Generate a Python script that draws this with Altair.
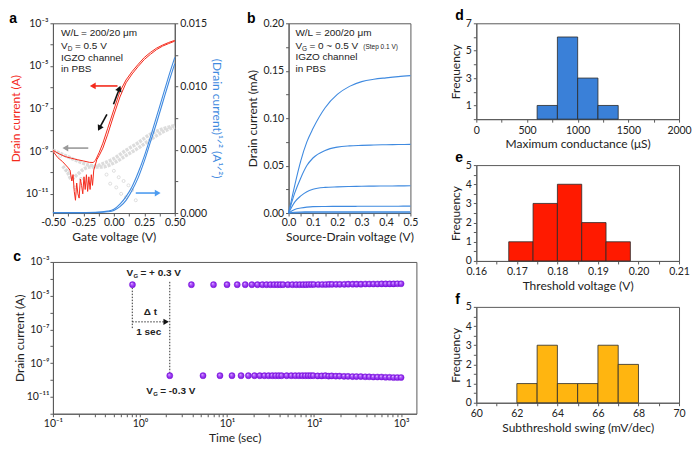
import altair as alt
import pandas as pd

FONT = "Lato"
TXT = "Liberation Sans"
RED = "#f42a1c"
BLUE = "#3f8ae0"
GREY = "#dcdcdc"
EDGE = "#5a5a5a"
INK = "#222222"

# ---------------- panel a : transfer curves ----------------
a_vg1 = [-0.50, -0.45, -0.40, -0.35, -0.30, -0.25, -0.20, -0.17, -0.15, -0.12, -0.09, -0.05,
         0.00, 0.05, 0.10, 0.15, 0.20, 0.25, 0.30, 0.35, 0.40, 0.45, 0.50]
a_id1 = [1.1e-9, 7.6e-10, 5.6e-10, 4.7e-10, 4.0e-10, 3.5e-10, 3.0e-10, 2.95e-10, 3.8e-10, 8.9e-10,
         2.4e-9, 1.2e-8, 8.9e-8, 6.3e-7, 2.2e-6, 5.5e-6, 1.2e-5, 2.5e-5, 4.3e-5, 6.8e-5, 9.5e-5,
         1.26e-4, 1.58e-4]
a_vg2 = [-0.50, -0.46, -0.42, -0.38, -0.36, -0.345, -0.335, -0.325, -0.315, -0.305, -0.295, -0.285,
         -0.275, -0.265, -0.255, -0.245, -0.235, -0.225, -0.215, -0.205, -0.195, -0.185, -0.175,
         -0.165, -0.155, -0.14, -0.12, -0.09, -0.05, 0.00, 0.05, 0.10, 0.15, 0.20, 0.25, 0.30, 0.35,
         0.40, 0.45, 0.50]
a_id2 = [1.0e-9, 5.0e-10, 3.2e-10, 1.8e-10, 1.3e-10, 4.0e-11, 8.0e-11, 1.3e-11, 5.0e-12, 3.2e-11,
         1.0e-11, 6.3e-12, 5.0e-11, 2.5e-11, 1.0e-11, 6.3e-11, 1.6e-11, 7.9e-11, 1.3e-11, 6.3e-11,
         1.6e-11, 7.9e-11, 2.5e-11, 1.3e-10, 2.0e-10, 4.0e-10, 6.3e-10, 1.4e-9, 6.3e-9, 5.0e-8,
         3.5e-7, 1.6e-6, 4.2e-6, 9.5e-6, 2.0e-5, 3.5e-5, 5.8e-5, 8.5e-5, 1.12e-4, 1.45e-4]
# square root of drain current (right axis)
a_sq_vg = [-0.50, -0.30, -0.15, -0.05, 0.00, 0.05, 0.10, 0.15, 0.20, 0.25, 0.30, 0.35, 0.40, 0.45, 0.50]
a_sq1 = [0.00003, 0.00003, 0.00005, 0.00015, 0.0003, 0.0007, 0.0013, 0.0021, 0.0032, 0.0045,
         0.0060, 0.0076, 0.0092, 0.0108, 0.0123]
a_sq2 = [0.00003, 0.00003, 0.00004, 0.00010, 0.0002, 0.0005, 0.0010, 0.0018, 0.0028, 0.0041,
         0.0056, 0.0071, 0.0087, 0.0103, 0.0118]
# gate leakage (grey)
a_gu_vg = [-0.50, -0.40, -0.30, -0.20, -0.15, -0.10, 0.00, 0.10, 0.20, 0.30, 0.40, 0.50]
a_gu_i = [1.1e-9, 6.3e-10, 3.5e-10, 2.2e-10, 2.0e-10, 2.5e-10, 4.5e-10, 1.1e-9, 2.5e-9, 6.3e-9, 1.1e-8, 1.6e-8]
a_gl_vg = [-0.42, -0.38, -0.35, -0.30, -0.25, -0.20, -0.10, 0.00, 0.10, 0.20, 0.30, 0.40, 0.50]
a_gl_i = [2.0e-10, 1.0e-10, 5.0e-11, 8.0e-11, 1.4e-10, 1.8e-10, 1.8e-10, 2.8e-10, 6.3e-10, 1.4e-9,
          3.5e-9, 7.9e-9, 1.4e-8]
a_gs_vg = [-0.44, -0.38, -0.32, -0.27, -0.06, -0.03, 0.00, 0.02, 0.04, 0.06, 0.08, 0.10, 0.12, 0.15, 0.18]
a_gs_i = [6e-10, 1.2e-10, 2e-11, 5e-11, 8e-11, 3e-11, 1.2e-10, 2e-11, 6e-11, 1e-11, 4e-11, 7e-12,
          2.5e-11, 1.5e-11, 5e-12]
a_x_ticks = [-0.5, -0.375, -0.25, -0.125, 0.0, 0.125, 0.25, 0.375, 0.5]
a_x_labels = [-0.5, -0.25, 0.0, 0.25, 0.5]
a_y_ticks = [1e-12, 1e-11, 1e-10, 1e-9, 1e-8, 1e-7, 1e-6, 1e-5, 1e-4, 1e-3]
a_y_labels = [1e-11, 1e-9, 1e-7, 1e-5, 1e-3]
a_r_ticks = [0.0, 0.0025, 0.005, 0.0075, 0.01, 0.0125, 0.015]
a_r_labels = [0.0, 0.005, 0.01, 0.015]

# ---------------- panel b : output curves ----------------
b_vd = [0, 0.025, 0.05, 0.075, 0.1, 0.15, 0.2, 0.25, 0.3, 0.35, 0.4, 0.45, 0.5]
b_vg = [0.5, 0.4, 0.3, 0.2, 0.1, 0.0]
b_id = [
    [0, 0.029, 0.055, 0.075, 0.089, 0.111, 0.125, 0.1335, 0.1385, 0.141, 0.1425, 0.1438, 0.1448],
    [0, 0.021, 0.037, 0.050, 0.058, 0.066, 0.0695, 0.0708, 0.0713, 0.0717, 0.072, 0.0722, 0.0724],
    [0, 0.0115, 0.018, 0.0225, 0.025, 0.027, 0.0276, 0.028, 0.0282, 0.0284, 0.0285, 0.0286, 0.0287],
    [0, 0.0038, 0.0053, 0.0062, 0.0067, 0.0069, 0.0070, 0.0070, 0.0071, 0.0071, 0.0072, 0.0072, 0.0073],
    [0, 0.0008, 0.0011, 0.0012, 0.0013, 0.0013, 0.0013, 0.0014, 0.0014, 0.0014, 0.0014, 0.0014, 0.0014],
    [0, 0.0002, 0.0003, 0.0003, 0.0003, 0.0003, 0.0003, 0.0003, 0.0003, 0.0003, 0.0003, 0.0003, 0.0003],
]
b_x_ticks = [0, 0.05, 0.1, 0.15, 0.2, 0.25, 0.3, 0.35, 0.4, 0.45, 0.5]
b_x_labels = [0, 0.1, 0.2, 0.3, 0.4, 0.5]
b_y_ticks = [0, 0.025, 0.05, 0.075, 0.1, 0.125, 0.15, 0.175, 0.2]
b_y_labels = [0, 0.05, 0.1, 0.15, 0.2]

# ---------------- panel c : pulse response ----------------
c_on_t = [0.82, 3.9, 7.0, 10.0, 13.1, 16.2, 19.3, 22.4, 25.5, 28.5, 31.6, 34.7, 37.8, 40.9, 44.0,
          50.1, 56.3, 62.4, 68.6, 74.8, 80.9, 87.1, 93.2, 99.4, 111.7, 124.0, 136.4, 148.7, 161.0,
          179.5, 198.0, 222.6, 247.3, 278.1, 308.9, 346.0, 389.1, 432.2, 481.5, 536.9, 598.5,
          666.4, 740.3, 820.4, 906.7, 1000.0]
c_on_i = [4.5e-5, 4.5e-5, 4.5e-5, 4.5e-5, 4.5e-5, 4.5e-5, 4.5e-5, 4.5e-5, 4.5e-5, 4.5e-5, 4.5e-5,
          4.5e-5, 4.5e-5, 4.5e-5, 4.5e-5, 4.5e-5, 4.5e-5, 4.5e-5, 4.5e-5, 4.5e-5, 4.5e-5, 4.6e-5,
          4.6e-5, 4.6e-5, 4.6e-5, 4.6e-5, 4.6e-5, 4.7e-5, 4.7e-5, 4.7e-5, 4.7e-5, 4.7e-5, 4.8e-5,
          4.8e-5, 4.8e-5, 4.8e-5, 4.9e-5, 4.9e-5, 4.9e-5, 4.9e-5, 5.0e-5, 5.0e-5, 5.0e-5, 5.0e-5,
          5.1e-5, 5.1e-5]
c_off_t = [2.2, 5.3, 8.3, 11.4, 14.5, 17.6, 20.7, 23.8, 26.9, 30.0, 33.1, 36.2, 39.3, 42.4, 48.5,
           54.7, 60.8, 67.0, 73.2, 79.3, 85.5, 91.6, 97.8, 110.1, 122.4, 134.8, 147.1, 159.4, 177.9,
           196.4, 221.0, 245.7, 276.5, 307.3, 344.4, 387.5, 430.6, 479.9, 535.3, 596.9, 664.8,
           738.7, 818.8, 905.1, 1000.0]
c_off_i = [1.8e-10, 1.8e-10, 1.8e-10, 1.8e-10, 1.8e-10, 1.8e-10, 1.8e-10, 1.8e-10, 1.8e-10, 1.8e-10,
           1.8e-10, 1.8e-10, 1.8e-10, 1.8e-10, 1.8e-10, 1.8e-10, 1.8e-10, 1.8e-10, 1.8e-10, 1.8e-10,
           1.8e-10, 1.8e-10, 1.8e-10, 1.75e-10, 1.75e-10, 1.8e-10, 1.7e-10, 1.75e-10, 1.7e-10,
           1.7e-10, 1.65e-10, 1.65e-10, 1.6e-10, 1.6e-10, 1.6e-10, 1.55e-10, 1.55e-10, 1.5e-10,
           1.5e-10, 1.5e-10, 1.45e-10, 1.45e-10, 1.4e-10, 1.4e-10, 1.4e-10]
c_x_ticks = [0.1, 0.2, 0.3, 0.4, 0.5, 0.6, 0.7, 0.8, 0.9, 1, 2, 3, 4, 5, 6, 7, 8, 9, 10, 20, 30, 40,
             50, 60, 70, 80, 90, 100, 200, 300, 400, 500, 600, 700, 800, 900, 1000]
c_x_labels = [0.1, 1, 10, 100, 1000]
c_y_ticks = [1e-12, 1e-11, 1e-10, 1e-9, 1e-8, 1e-7, 1e-6, 1e-5, 1e-4, 1e-3]
c_y_labels = [1e-11, 1e-9, 1e-7, 1e-5, 1e-3]

# ---------------- histograms ----------------
d_lo = [600, 800, 1000, 1200]
d_hi = [800, 1000, 1200, 1400]
d_n = [1, 6, 3, 1]
e_lo = [0.168, 0.174, 0.180, 0.186, 0.192]
e_hi = [0.174, 0.180, 0.186, 0.192, 0.198]
e_n = [1, 3, 4, 2, 1]
f_lo = [62, 63, 64, 65, 66, 67]
f_hi = [63, 64, 65, 66, 67, 68]
f_n = [1, 3, 1, 1, 3, 2]
d_x_ticks = [0, 250, 500, 750, 1000, 1250, 1500, 1750, 2000]
d_x_labels = [0, 500, 1000, 1500, 2000]
d_y_ticks = [0, 1, 2, 3, 4, 5, 6, 7]
d_y_labels = [1, 3, 5, 7]
e_x_ticks = [0.16, 0.165, 0.17, 0.175, 0.18, 0.185, 0.19, 0.195, 0.2, 0.205, 0.21]
e_x_labels = [0.16, 0.17, 0.18, 0.19, 0.2, 0.21]
h_y_ticks = [0, 0.5, 1, 1.5, 2, 2.5, 3, 3.5, 4, 4.5, 5]
h_y_labels = [0, 1, 2, 3, 4, 5]
f_x_ticks = [60, 61, 62, 63, 64, 65, 66, 67, 68, 69, 70]
f_x_labels = [60, 62, 64, 66, 68, 70]

SUP = str.maketrans("-0123456789", "\u207b\u2070\u00b9\u00b2\u00b3\u2074\u2075\u2076\u2077\u2078\u2079")


def pow_label(v):
    import math
    return "10" + str(int(round(math.log10(v)))).translate(SUP)


def log_expr(labels):
    expr = "''"
    for v in reversed(labels):
        expr = f"datum.value == {v!r} ? '{pow_label(v)}' : ({expr})"
    return expr


def lin_expr(labels, fmt):
    arr = ",".join(repr(v) for v in labels)
    return f"indexof([{arr}], datum.value) >= 0 ? replace(format(datum.value, '{fmt}'), '\u2212', '-') : ''"


def lin_axis(ticks, labels, fmt, title, **kw):
    return alt.Axis(values=ticks, labelExpr=lin_expr(labels, fmt), title=title, labelOverlap=False,
                    labelFlush=False, **kw)


def log_axis(ticks, labels, title, **kw):
    return alt.Axis(values=ticks, labelExpr=log_expr(labels), title=title, labelOverlap=False,
                    labelFlush=False, **kw)


def letter(s, dx=0, dy=0):
    return alt.TitleParams(s, anchor="start", fontSize=14, fontWeight="bold", font=TXT,
                           color="#000", dx=dx, dy=dy, offset=0, frame="bounds")


# ======================= panel a =======================
A_XS = alt.Scale(domain=[-0.5, 0.5], nice=False, zero=False)
A_XAX = lin_axis(a_x_ticks, a_x_labels, ".2f", "Gate voltage (V)")
A_YS = alt.Scale(type="log", domain=[1.26e-12, 1e-3], nice=False)
A_YAX = log_axis(a_y_ticks, a_y_labels, "Drain current (A)", titleColor=RED)
A_RS = alt.Scale(domain=[0, 0.015], nice=False)
A_RAX = lin_axis(a_r_ticks, a_r_labels, ".3f", "(Drain current)\u00b9\u141f\u00b2  (A\u00b9\u141f\u00b2)",
                 orient="right", titleColor=BLUE)


def ax(f):
    return alt.X(f, scale=A_XS, axis=A_XAX)


def ay(f):
    return alt.Y(f, scale=A_YS, axis=A_YAX)


def ar(f):
    return alt.Y(f, scale=A_RS, axis=A_RAX)


red_df = pd.concat([
    pd.DataFrame({"vg": a_vg1, "i": a_id1, "s": "fwd"}),
    pd.DataFrame({"vg": a_vg2, "i": a_id2, "s": "rev"}),
])
grey_df = pd.concat([
    pd.DataFrame({"vg": a_gu_vg, "i": a_gu_i, "s": "u"}),
    pd.DataFrame({"vg": a_gl_vg, "i": a_gl_i, "s": "l"}),
])
grey_lines = alt.Chart(grey_df).mark_line(color=GREY, strokeWidth=3.5, strokeDash=[3, 1],
                                          interpolate="monotone").encode(
    x=ax("vg:Q"), y=ay("i:Q"), detail="s:N")
grey_pts = alt.Chart(pd.DataFrame({"vg": a_gs_vg, "i": a_gs_i})).mark_point(
    color="#d0d0d0", size=9, strokeWidth=1).encode(x=ax("vg:Q"), y=ay("i:Q"))
red_lines = alt.Chart(red_df).mark_line(color=RED, strokeWidth=1.0).encode(
    x=ax("vg:Q"), y=ay("i:Q"), detail="s:N")

# arrows (start -> end) on the log axis
arr_df = pd.DataFrame({
    "x0": [0.03, -0.21, -0.057, -0.003],
    "x1": [-0.165, -0.39, -0.115, 0.043],
    "y0": [1.15e-6, 1.4e-9, 5.4e-8, 1.6e-7],
    "y1": [1.15e-6, 1.4e-9, 1.3e-8, 7.9e-7],
    "c": [RED, "#9a9a9a", "#111111", "#111111"],
    "ang": [270, 270, 208, 20],
})
arr_rules = alt.Chart(arr_df).mark_rule(strokeWidth=1.6).encode(
    x=ax("x0:Q"), x2="x1:Q", y=ay("y0:Q"), y2="y1:Q", color=alt.Color("c:N", scale=None))
arr_heads = alt.Chart(arr_df).mark_point(shape="triangle", filled=True, size=45, opacity=1).encode(
    x=ax("x1:Q"), y=ay("y1:Q"), color=alt.Color("c:N", scale=None), angle=alt.Angle("ang:Q", scale=None))

inset_a = pd.DataFrame({
    "vg": [-0.434, -0.434, -0.434, -0.434],
    "i": [3.4e-4, 8.7e-5, 2.45e-5, 6.9e-6],
    "t": ["W/L = 200/20 \u03bcm", "V", "IGZO channel", "in PBS"],
    "sub": ["", "D", "", ""],
    "rest": ["", "= 0.5 V", "", ""],
})
inset_a_txt = alt.Chart(inset_a).mark_text(align="left", baseline="middle", font=TXT, fontSize=10,
                                           color=INK).encode(x=ax("vg:Q"), y=ay("i:Q"), text="t:N")
inset_a_sub = alt.Chart(inset_a).mark_text(
    align="left", baseline="middle", font=TXT, fontSize=6.5, color=INK, dx=6.7, dy=3).encode(
    x=ax("vg:Q"), y=ay("i:Q"), text="sub:N")
inset_a_rest = alt.Chart(inset_a).mark_text(
    align="left", baseline="middle", font=TXT, fontSize=10, color=INK, dx=14).encode(
    x=ax("vg:Q"), y=ay("i:Q"), text="rest:N")

left_layer = alt.layer(grey_lines, grey_pts, red_lines, arr_rules, arr_heads,
                       inset_a_txt, inset_a_sub, inset_a_rest)

blue_df = pd.concat([
    pd.DataFrame({"vg": a_sq_vg, "q": a_sq1, "s": "1"}),
    pd.DataFrame({"vg": a_sq_vg, "q": a_sq2, "s": "2"}),
])
blue_lines = alt.Chart(blue_df).mark_line(color=BLUE, strokeWidth=1.1, interpolate="monotone").encode(
    x=ax("vg:Q"), y=ar("q:Q"), detail="s:N")
barr = pd.DataFrame({"x0": [0.18], "x1": [0.36], "q": [0.00158]})
barr_rule = alt.Chart(barr).mark_rule(color="#4d9cf0", strokeWidth=1.6).encode(
    x=ax("x0:Q"), x2="x1:Q", y=ar("q:Q"))
barr_head = alt.Chart(barr).mark_point(shape="triangle-right", filled=True, size=45, opacity=1,
                                       color="#4d9cf0").encode(x=ax("x1:Q"), y=ar("q:Q"))
right_layer = alt.layer(blue_lines, barr_rule, barr_head)

panel_a = alt.layer(left_layer, right_layer).resolve_scale(y="independent").properties(
    width=122, height=190, title=letter("a", 0, 8))

# ======================= panel b =======================
B_XS = alt.Scale(domain=[0, 0.5], nice=False)
B_XAX = lin_axis(b_x_ticks, b_x_labels, ".1f", "Source-Drain voltage (V)")
B_YS = alt.Scale(domain=[0, 0.2], nice=False)
B_YAX = lin_axis(b_y_ticks, b_y_labels, ".2f", "Drain current (mA)")
bx = alt.X("vd:Q", scale=B_XS, axis=B_XAX)
by = alt.Y("id:Q", scale=B_YS, axis=B_YAX)
b_rows = []
for g, ys in zip(b_vg, b_id):
    for x, y in zip(b_vd, ys):
        b_rows.append({"vd": x, "id": y, "vg": g})
b_df = pd.DataFrame(b_rows)
b_lines = alt.Chart(b_df).mark_line(color=BLUE, strokeWidth=1.1, interpolate="monotone").encode(
    x=bx, y=by, detail="vg:N")
inset_b = pd.DataFrame({"vd": [0.028] * 4, "id": [0.1895, 0.176, 0.164, 0.1516],
                        "t": ["W/L = 200/20 \u03bcm", "V", "IGZO channel", "in PBS"],
                        "sub": ["", "G", "", ""], "rest": ["", "= 0 ~ 0.5 V", "", ""],
                        "note": ["", "(Step 0.1 V)", "", ""]})
b_t1 = alt.Chart(inset_b).mark_text(align="left", baseline="middle", font=TXT, fontSize=10,
                                    color=INK).encode(x=bx, y=by, text="t:N")
b_t2 = alt.Chart(inset_b).mark_text(align="left", baseline="middle", font=TXT,
                                    fontSize=6.5, color=INK, dx=6.7, dy=3).encode(x=bx, y=by, text="sub:N")
b_t3 = alt.Chart(inset_b).mark_text(align="left", baseline="middle", font=TXT,
                                    fontSize=10, color=INK, dx=14).encode(x=bx, y=by, text="rest:N")
b_t4 = alt.Chart(inset_b).mark_text(align="left", baseline="middle", font=TXT,
                                    fontSize=6.5, color=INK, dx=68, dy=1).encode(x=bx, y=by, text="note:N")
panel_b = alt.layer(b_lines, b_t1, b_t2, b_t3, b_t4).properties(
    width=122, height=190, title=letter("b", 0, 8))

# ======================= panel c =======================
C_XS = alt.Scale(type="log", domain=[0.1, 1500], nice=False)
C_XAX = log_axis(c_x_ticks, c_x_labels, "Time (sec)")
C_YS = alt.Scale(type="log", domain=[1e-12, 1e-3], nice=False)
C_YAX = log_axis(c_y_ticks, c_y_labels, "Drain current (A)", titlePadding=0, labelPadding=1)


def cx(f):
    return alt.X(f, scale=C_XS, axis=C_XAX)


def cy(f):
    return alt.Y(f, scale=C_YS, axis=C_YAX)


c_df = pd.concat([pd.DataFrame({"t": c_on_t, "i": c_on_i}), pd.DataFrame({"t": c_off_t, "i": c_off_i})])
sphere = {"gradient": "radial", "x1": 0.38, "y1": 0.33, "r1": 0, "x2": 0.5, "y2": 0.5, "r2": 0.5,
          "stops": [{"offset": 0, "color": "#ffffff"}, {"offset": 0.3, "color": "#b35cff"},
                    {"offset": 1, "color": "#7a12dc"}]}
c_pts = alt.Chart(c_df).mark_circle(size=38, opacity=1, fill=sphere, stroke="#7a12dc",
                                    strokeWidth=0.4).encode(x=cx("t:Q"), y=cy("i:Q"))
c_lines = pd.DataFrame({"t0": [0.816, 2.2, 0.816], "t1": [0.816, 2.2, 2.0],
                        "i0": [4.5e-5, 6.6e-5, 2.8e-7], "i1": [1.15e-7, 2.0e-10, 2.8e-7]})
c_rules = alt.Chart(c_lines).mark_rule(color="#333", strokeWidth=1, strokeDash=[1.5, 1.5]).encode(
    x=cx("t0:Q"), x2="t1:Q", y=cy("i0:Q"), y2="i1:Q")
c_head = alt.Chart(c_lines.iloc[[2]]).mark_point(shape="triangle-right", filled=True, size=40,
                                                 opacity=1, color="#111").encode(x=cx("t1:Q"), y=cy("i1:Q"))
c_notes = pd.DataFrame({"t": [0.70, 1.18, 1.32, 1.26], "i": [2.2e-4, 2.2e-11, 1.15e-6, 6.6e-8],
                        "s": ["V", "V", "\u0394 t", "1 sec"],
                        "sub": ["G", "G", "", ""], "rest": ["= + 0.3 V", "= -0.3 V", "", ""]})
c_t1 = alt.Chart(c_notes.iloc[:2]).mark_text(align="left", baseline="middle", font=TXT, fontSize=10,
                                             fontWeight="bold", color=INK).encode(
    x=cx("t:Q"), y=cy("i:Q"), text="s:N")
c_t2 = alt.Chart(c_notes.iloc[:2]).mark_text(align="left", baseline="middle", font=TXT, fontSize=6,
                                             fontWeight="bold", color=INK, dx=7, dy=3).encode(
    x=cx("t:Q"), y=cy("i:Q"), text="sub:N")
c_t3 = alt.Chart(c_notes.iloc[:2]).mark_text(align="left", baseline="middle", font=TXT, fontSize=10,
                                             fontWeight="bold", color=INK, dx=14).encode(
    x=cx("t:Q"), y=cy("i:Q"), text="rest:N")
c_t4 = alt.Chart(c_notes.iloc[2:]).mark_text(align="center", baseline="middle", font=TXT, fontSize=10,
                                             fontWeight="bold", color=INK).encode(
    x=cx("t:Q"), y=cy("i:Q"), text="s:N")
panel_c = alt.layer(c_rules, c_head, c_pts, c_t1, c_t2, c_t3, c_t4).properties(
    width=364, height=152, title=letter("c", 0, 7))


# ======================= histograms =======================
def hist(lo, hi, n, xd, xt, xl, xf, yd, yt, yl, color, xtitle, let):
    df = pd.DataFrame({"lo": lo, "hi": hi, "n": n})
    return alt.Chart(df).mark_rect(color=color, stroke="#2a2a2a", strokeWidth=0.8).encode(
        x=alt.X("lo:Q", scale=alt.Scale(domain=xd, nice=False, zero=False),
                axis=lin_axis(xt, xl, xf, xtitle, labelPadding=3)),
        x2="hi:Q",
        y=alt.Y("n:Q", scale=alt.Scale(domain=yd, nice=False),
                axis=lin_axis(yt, yl, "d", "Frequency")),
        y2=alt.datum(0),
    ).properties(width=203, height=96, title=letter(let, 6, 5))


panel_d = hist(d_lo, d_hi, d_n, [0, 2000], d_x_ticks, d_x_labels, "d", [0, 7], d_y_ticks, d_y_labels,
               "#3a80d8", "Maximum conductance (\u03bcS)", "d")
panel_e = hist(e_lo, e_hi, e_n, [0.16, 0.21], e_x_ticks, e_x_labels, ".2f", [0, 5], h_y_ticks, h_y_labels,
               "#ff1a00", "Threshold voltage (V)", "e")
panel_f = hist(f_lo, f_hi, f_n, [60, 70], f_x_ticks, f_x_labels, "d", [0, 5], h_y_ticks, h_y_labels,
               "#ffb510", "Subthreshold swing (mV/dec)", "f")

row1 = alt.hconcat(panel_a, panel_b, spacing=22)
left = alt.vconcat(row1, panel_c, spacing=6)
right = alt.vconcat(panel_d, panel_e, panel_f, spacing=0)

chart = alt.hconcat(left, right, spacing=30).properties(
    padding={"left": 0, "top": 0, "right": 0, "bottom": 0}
).configure_view(
    stroke=EDGE, strokeWidth=1
).configure_axis(
    labelFont=FONT, titleFont=FONT, labelFontSize=10.5, titleFontSize=12, titleFontWeight="normal",
    labelColor=INK, titleColor=INK, domainColor=EDGE, tickColor=EDGE, tickSize=3, grid=False,
    labelPadding=2, titlePadding=3, labelOverlap=False, labelFlush=False,
).configure_title(font=TXT)

chart.save("out.html", embed_options={"renderer": "svg", "actions": False})
